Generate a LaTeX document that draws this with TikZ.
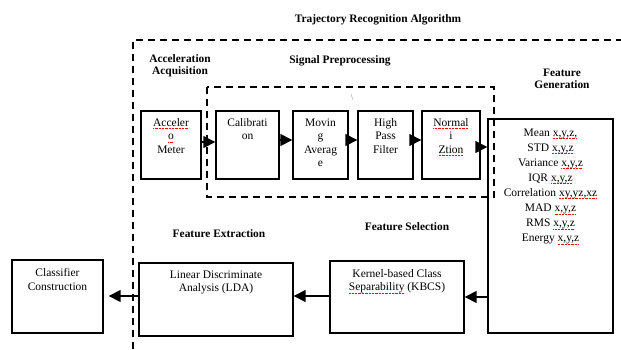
\documentclass[tikz,border=0pt]{standalone}
\usepackage{fontspec}
\setmainfont{Liberation Serif}
\usetikzlibrary{arrows.meta,positioning}
% red spell-check marks under a word
\newcommand{\spell}[1]{\setbox0\hbox{#1}\leavevmode
  \rlap{\hbox to \wd0{\color{red}\xleaders\hbox to 1.4pt{\rule[-2.6pt]{0.8pt}{0.6pt}\hss}\hfill}}\box0\relax}

\tikzset{
  blk/.style={draw, line width=1.4pt, inner sep=0pt},
  txt/.style={font=\fontsize{11.5}{13.5}\selectfont, align=center, anchor=north, inner sep=0pt},
  head/.style={font=\fontsize{11.4}{12.5}\selectfont\bfseries, align=center, inner sep=0pt},
  arr/.style={line width=1.5pt, -{Triangle[length=12pt,width=12pt]}},
  grp/.style={line width=1.4pt, dash pattern=on 7pt off 5pt},
}

\begin{document}
\begin{tikzpicture}[x=1pt,y=-1pt]
  \useasboundingbox (0,0) rectangle (621,349);

  % outer algorithm frame (runs off the page)
  \draw[grp] (133,349) -- (133,40) -- (621,40);
  \node[head] (title) at (378,20) {Trajectory Recognition Algorithm};

  % section headings
  \node[head] (hacq) at (180,66) {Acceleration\\Acquisition};
  \node[head] (hpre) at (340,61) {Signal Preprocessing};
  \node[head] (hgen) at (562,79) {Feature\\Generation};
  \node[head] (hsel) at (407,227) {Feature Selection};
  \node[head] (hext) at (219,234) {Feature Extraction};

  % preprocessing group
  \draw[grp] (207,87) rectangle (494,197);
  \node[font=\small, text=blue!20!gray!80, inner sep=0pt] (tick) at (352,98) {\textbackslash};

  % top row
  \node[blk, minimum width=60pt, minimum height=68pt] (acc) at (171,145) {};
  \node[blk, minimum width=63pt, minimum height=68pt] (cal) at (247.5,145) {};
  \node[blk, minimum width=55pt, minimum height=68pt] (mov) at (320.5,145) {};
  \node[blk, minimum width=55pt, minimum height=68pt] (hpf) at (385.5,145) {};
  \node[blk, minimum width=58pt, minimum height=68pt] (nrm) at (451,145) {};
  \node[blk, minimum width=125pt, minimum height=214pt] (feat) at (550.5,226) {};

  \node[txt] (acct) at ([yshift=-8pt]acc.north) {\spell{Acceler}\\\spell{o}\\Meter};
  \node[txt] (calt) at ([yshift=-8pt]cal.north) {Calibrati\\on};
  \node[txt] (movt) at ([yshift=-8pt]mov.north) {Movin\\g\\Averag\\e};
  \node[txt] (hpft) at ([yshift=-8pt]hpf.north) {High\\Pass\\Filter};
  \node[txt] (nrmt) at ([yshift=-8pt]nrm.north) {\spell{Normal}\\i\\\spell{Ztion}};
  \node[txt, font=\fontsize{11.5}{15.1}\selectfont] (featt) at ([yshift=-10pt]feat.north) {%
    Mean \spell{x,y,z,}\\
    STD \spell{x,y,z}\\
    Variance \spell{x,y,z}\\
    IQR \spell{x,y,z}\\
    Correlation \spell{xy,yz,xz}\\
    MAD \spell{x,y,z}\\
    RMS \spell{x,y,z}\\
    Energy \spell{x,y,z}};

  % bottom row
  \node[blk, minimum width=91pt, minimum height=73pt] (cls) at (57.5,296.5) {};
  \node[blk, minimum width=154pt, minimum height=73pt] (lda) at (216,299.5) {};
  \node[blk, minimum width=134pt, minimum height=72pt] (kbcs) at (397,297) {};

  \node[txt] (clst) at ([yshift=-9pt]cls.north) {Classifier\\Construction};
  \node[txt] (ldat) at ([yshift=-8pt]lda.north) {Linear Discriminate\\Analysis (LDA)};
  \node[txt] (kbcst) at ([yshift=-9pt]kbcs.north) {Kernel-based Class\\\spell{Separability} (KBCS)};

  % flow
  \draw[arr] ([yshift=3pt]acc.east) -- ([yshift=3pt]cal.west);
  \draw[arr] ([yshift=5pt]cal.east) -- ([yshift=5pt]mov.west);
  \draw[arr] ([yshift=5pt]mov.east) -- ([yshift=5pt]hpf.west);
  \draw[arr] ([yshift=5pt]hpf.east) -- ([yshift=5pt]nrm.west);
  \draw[arr] ([yshift=-2pt]nrm.east) -- ([yshift=-2pt]nrm.east -| feat.west);
  \draw[arr] (kbcs.east -| feat.west) -- (kbcs.east);
  \draw[arr] ([yshift=1pt]kbcs.west) -- ([yshift=1pt]kbcs.west -| lda.east);
  \draw[arr] ([yshift=3.5pt]lda.west) -- ([yshift=3.5pt,xshift=5pt]lda.west -| cls.east);
\end{tikzpicture}
\end{document}
